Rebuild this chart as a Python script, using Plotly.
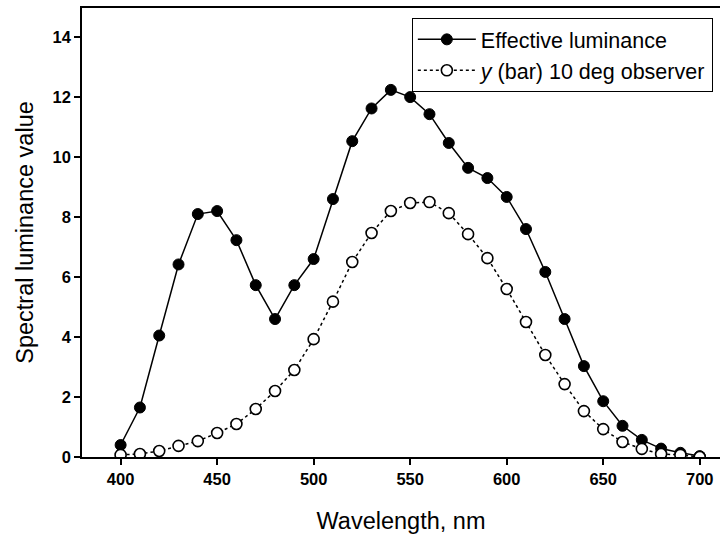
import plotly.graph_objects as go

wavelength = list(range(400, 701, 10))
effective_luminance = [0.4, 1.65, 4.05, 6.42, 8.1, 8.2, 7.23, 5.73, 4.6, 5.73, 6.6,
                       8.6, 10.53, 11.62, 12.24, 12.0, 11.43, 10.47, 9.64, 9.3, 8.67,
                       7.6, 6.17, 4.6, 3.03, 1.86, 1.04, 0.57, 0.28, 0.14, 0.03]
ybar_10deg = [0.07, 0.1, 0.2, 0.37, 0.53, 0.8, 1.1, 1.6, 2.2, 2.9, 3.93,
              5.18, 6.5, 7.47, 8.2, 8.47, 8.5, 8.13, 7.43, 6.63, 5.6,
              4.5, 3.4, 2.43, 1.53, 0.93, 0.5, 0.27, 0.1, 0.07, 0.0]
x_ticks = [400, 450, 500, 550, 600, 650, 700]
y_ticks = [0, 2, 4, 6, 8, 10, 12, 14]

font_family = "Liberation Sans, Arial, sans-serif"

fig = go.Figure()
fig.add_trace(go.Scatter(
    x=wavelength, y=effective_luminance, mode="lines+markers",
    name="Effective luminance",
    line=dict(color="black", width=1.5),
    marker=dict(symbol="circle", size=11, color="black", line=dict(color="black", width=1)),
))
fig.add_trace(go.Scatter(
    x=wavelength, y=ybar_10deg, mode="lines+markers",
    name="<i>y</i> (bar) 10 deg observer",
    line=dict(color="black", width=1.5, dash="dot"),
    marker=dict(symbol="circle", size=11, color="white", line=dict(color="black", width=1.6)),
))

fig.update_layout(
    width=720, height=536,
    margin=dict(l=82, r=0, t=8, b=79),
    plot_bgcolor="white", paper_bgcolor="white",
    font=dict(family=font_family, color="black"),
    showlegend=True,
    legend=dict(
        x=0.517, y=0.978, xanchor="left", yanchor="top",
        bordercolor="black", borderwidth=1, bgcolor="white",
        font=dict(family=font_family, size=21.5, color="black"),
        tracegroupgap=0, itemwidth=58,
    ),
    xaxis=dict(
        range=[380, 710.5], tickvals=x_ticks, ticktext=[str(v) for v in x_ticks],
        showline=True, linecolor="black", linewidth=1.5, mirror=True,
        ticks="outside", ticklen=6, tickcolor="black", tickwidth=1.5,
        showgrid=False, zeroline=False,
        tickfont=dict(family=font_family, size=16.5, color="black", weight="bold"),
        title=dict(text="Wavelength, nm", font=dict(family=font_family, size=23.5, color="black"), standoff=26),
    ),
    yaxis=dict(
        range=[0, 14.97], tickvals=y_ticks, ticktext=[str(v) for v in y_ticks],
        showline=True, linecolor="black", linewidth=1.5, mirror=False,
        ticks="outside", ticklen=6, tickcolor="black", tickwidth=1.5,
        showgrid=False, zeroline=False,
        tickfont=dict(family=font_family, size=16.5, color="black", weight="bold"),
        title=dict(text="Spectral luminance value", font=dict(family=font_family, size=23.5, color="black"), standoff=12),
    ),
)

fig.write_html("out.html")
